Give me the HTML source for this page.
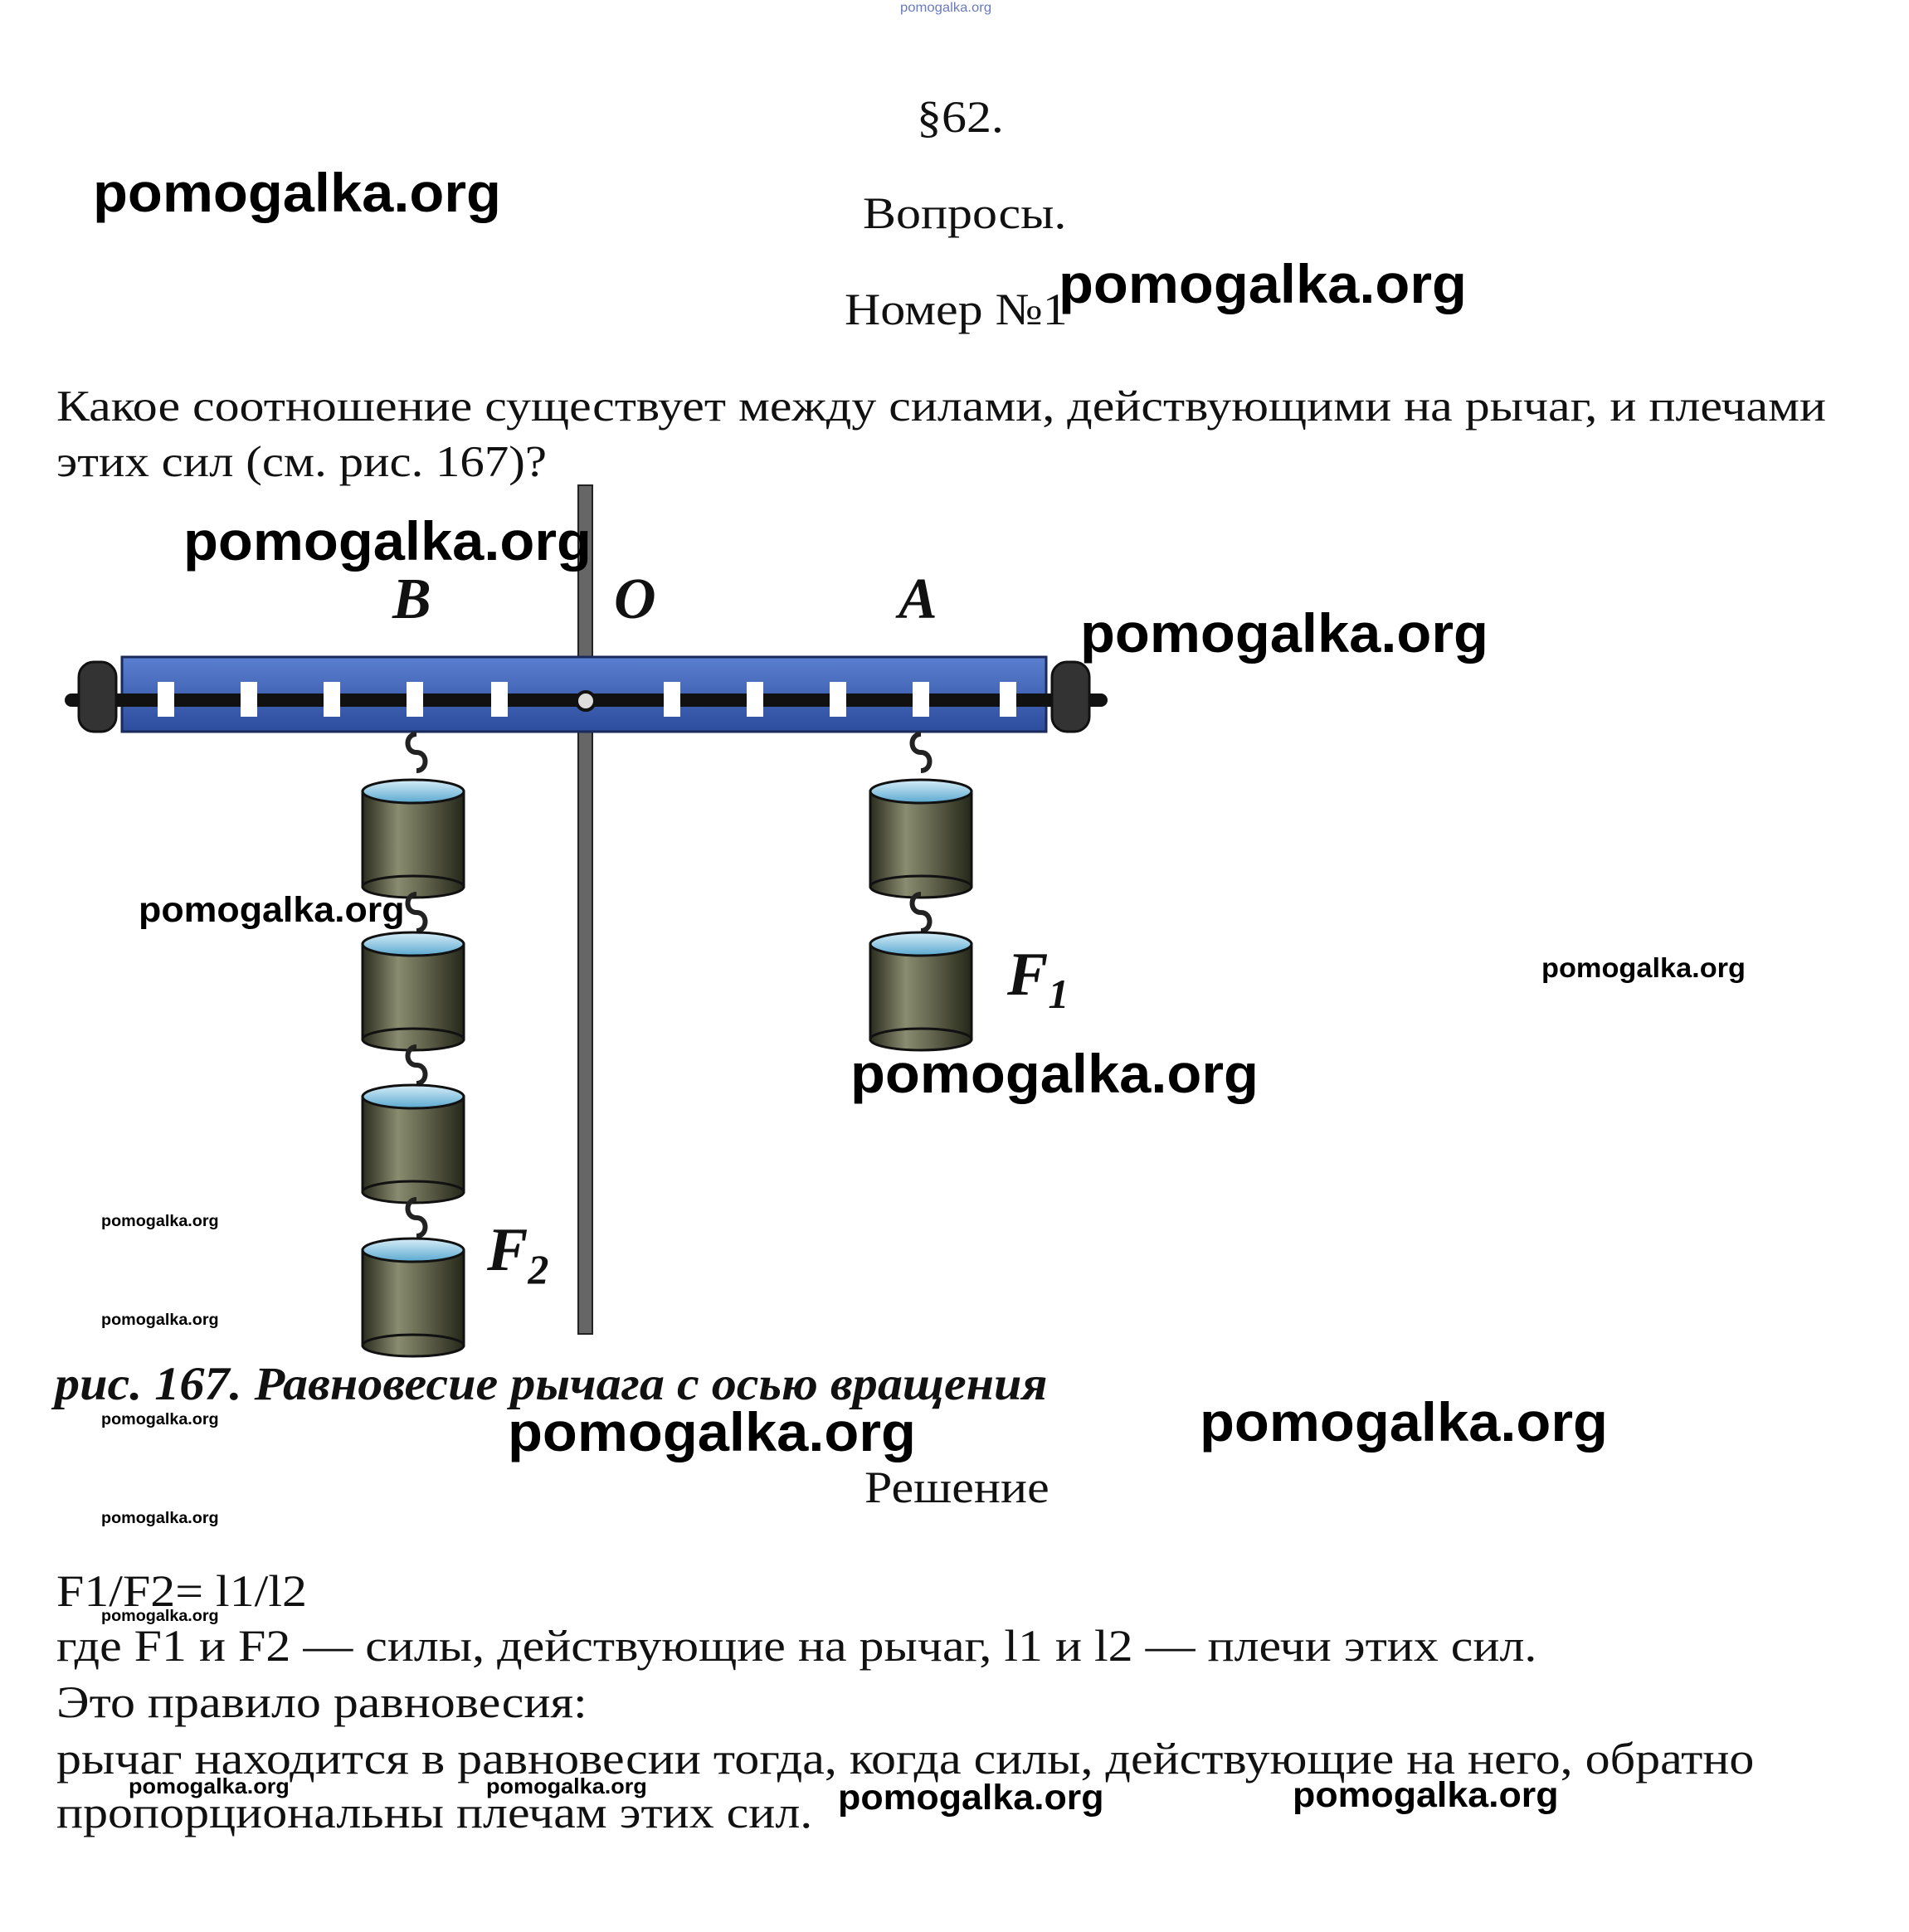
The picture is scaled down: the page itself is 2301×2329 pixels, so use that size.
<!DOCTYPE html>
<html><head><meta charset="utf-8"><style>
html,body{margin:0;padding:0;background:#fff;}
body{width:2301px;height:2329px;position:relative;overflow:hidden;}
.t{position:absolute;font-family:"Liberation Serif",serif;color:#111;line-height:1;white-space:nowrap;transform-origin:0 0;transform:scaleX(1.11);}
.w{position:absolute;font-family:"Liberation Sans",sans-serif;font-weight:bold;color:#000;line-height:1;white-space:nowrap;transform-origin:0 0;transform:scaleX(1.04);}
svg{position:absolute;left:0;top:0;}
</style></head><body>
<svg width="2301" height="2329" viewBox="0 0 2301 2329">
<defs>
<linearGradient id="cyl" x1="0" x2="1" y1="0" y2="0">
<stop offset="0" stop-color="#2a2c1e"/><stop offset="0.35" stop-color="#8a8c70"/><stop offset="0.55" stop-color="#6c6e55"/><stop offset="1" stop-color="#25271a"/></linearGradient>
<linearGradient id="top" x1="0" x2="0" y1="0" y2="1"><stop offset="0" stop-color="#d8eef8"/><stop offset="1" stop-color="#5aa8d0"/></linearGradient>
<linearGradient id="bar" x1="0" x2="0" y1="0" y2="1"><stop offset="0" stop-color="#5b7fd0"/><stop offset="1" stop-color="#2c4c9c"/></linearGradient>
<g id="w">
<rect x="0" y="14" width="122" height="115" fill="url(#cyl)" stroke="#111" stroke-width="3"/>
<ellipse cx="61" cy="129" rx="61" ry="13" fill="url(#cyl)" stroke="#111" stroke-width="3"/>
<ellipse cx="61" cy="14" rx="61" ry="14" fill="url(#top)" stroke="#111" stroke-width="3"/>
</g>
<g id="h"><path d="M0 0 c-14 0 -14 22 0 22 c14 0 14 22 0 22" fill="none" stroke="#222" stroke-width="6"/></g>
</defs>
<rect x="697" y="585" width="17" height="1023" fill="#666" stroke="#222" stroke-width="2"/>
<rect x="147" y="792" width="1114" height="90" fill="url(#bar)" stroke="#1a2a5a" stroke-width="3"/>
<rect x="78" y="836" width="1257" height="16" fill="#111" rx="8"/>
<g fill="#fff">
<rect x="190" y="822" width="20" height="42"/><rect x="290" y="822" width="20" height="42"/><rect x="390" y="822" width="20" height="42"/><rect x="490" y="822" width="20" height="42"/><rect x="592" y="822" width="20" height="42"/>
<rect x="800" y="822" width="20" height="42"/><rect x="900" y="822" width="20" height="42"/><rect x="1000" y="822" width="20" height="42"/><rect x="1100" y="822" width="20" height="42"/><rect x="1205" y="822" width="20" height="42"/>
</g>
<circle cx="706" cy="845" r="11" fill="#ddd" stroke="#111" stroke-width="4"/>
<rect x="95" y="798" width="45" height="84" rx="18" fill="#333" stroke="#111" stroke-width="3"/>
<rect x="1268" y="798" width="45" height="84" rx="18" fill="#333" stroke="#111" stroke-width="3"/>
<use href="#h" x="502" y="885"/><use href="#w" x="437" y="940"/>
<use href="#h" x="502" y="1078"/><use href="#w" x="437" y="1124"/>
<use href="#h" x="502" y="1262"/><use href="#w" x="437" y="1308"/>
<use href="#h" x="502" y="1446"/><use href="#w" x="437" y="1493"/>
<use href="#h" x="1110" y="885"/><use href="#w" x="1049" y="940"/>
<use href="#h" x="1110" y="1078"/><use href="#w" x="1049" y="1124"/>
</svg>
<div class="w" style="left:1085px;top:2px;font-size:16px;color:#6a7ac0;font-weight:normal">pomogalka.org</div>
<div class="t" style="left:1105px;top:114px;font-size:54px">§62.</div>
<div class="t" style="left:1040px;top:230px;font-size:54px">Вопросы.</div>
<div class="t" style="left:1018px;top:346px;font-size:54px">Номер №1</div>
<div class="t" style="left:68px;top:464px;font-size:53px;transform:scaleX(1.13)">Какое соотношение существует между силами, действующими на рычаг, и плечами</div>
<div class="t" style="left:68px;top:531px;font-size:53px">этих сил (см. рис. 167)?</div>
<div class="t" style="left:473px;top:688px;font-size:70px;font-style:italic;font-weight:bold;transform:none">B</div>
<div class="t" style="left:740px;top:688px;font-size:70px;font-style:italic;font-weight:bold;transform:none">O</div>
<div class="t" style="left:1083px;top:688px;font-size:70px;font-style:italic;font-weight:bold;transform:none">A</div>
<div class="t" style="left:1214px;top:1138px;font-size:74px;font-style:italic;font-weight:bold;transform:none">F<sub style="font-size:50px">1</sub></div>
<div class="t" style="left:587px;top:1470px;font-size:74px;font-style:italic;font-weight:bold;transform:none">F<sub style="font-size:50px">2</sub></div>
<div class="t" style="left:66px;top:1640px;font-size:57px;font-style:italic;font-weight:bold;transform:scaleX(1.055)">рис. 167. Равновесие рычага с осью вращения</div>
<div class="t" style="left:1042px;top:1766px;font-size:54px">Решение</div>
<div class="t" style="left:68px;top:1891px;font-size:54px">F1/F2= l1/l2</div>
<div class="t" style="left:68px;top:1957px;font-size:54px">где F1 и F2 — силы, действующие на рычаг, l1 и l2 — плечи этих сил.</div>
<div class="t" style="left:68px;top:2025px;font-size:54px">Это правило равновесия:</div>
<div class="t" style="left:68px;top:2093px;font-size:54px">рычаг находится в равновесии тогда, когда силы, действующие на него, обратно</div>
<div class="t" style="left:68px;top:2158px;font-size:54px">пропорциональны плечам этих сил.</div>
<div class="w" style="left:112px;top:199px;font-size:66px">pomogalka.org</div>
<div class="w" style="left:1276px;top:309px;font-size:66px">pomogalka.org</div>
<div class="w" style="left:221px;top:619px;font-size:66px">pomogalka.org</div>
<div class="w" style="left:1302px;top:730px;font-size:66px">pomogalka.org</div>
<div class="w" style="left:167px;top:1076px;font-size:43px">pomogalka.org</div>
<div class="w" style="left:1858px;top:1150px;font-size:33px">pomogalka.org</div>
<div class="w" style="left:1025px;top:1261px;font-size:66px">pomogalka.org</div>
<div class="w" style="left:122px;top:1463px;font-size:19px">pomogalka.org</div>
<div class="w" style="left:122px;top:1582px;font-size:19px">pomogalka.org</div>
<div class="w" style="left:122px;top:1702px;font-size:19px">pomogalka.org</div>
<div class="w" style="left:122px;top:1821px;font-size:19px">pomogalka.org</div>
<div class="w" style="left:122px;top:1939px;font-size:19px">pomogalka.org</div>
<div class="w" style="left:612px;top:1693px;font-size:66px">pomogalka.org</div>
<div class="w" style="left:1446px;top:1681px;font-size:66px">pomogalka.org</div>
<div class="w" style="left:155px;top:2140px;font-size:26px">pomogalka.org</div>
<div class="w" style="left:586px;top:2140px;font-size:26px">pomogalka.org</div>
<div class="w" style="left:1010px;top:2146px;font-size:43px">pomogalka.org</div>
<div class="w" style="left:1558px;top:2143px;font-size:43px">pomogalka.org</div>
</body></html>
